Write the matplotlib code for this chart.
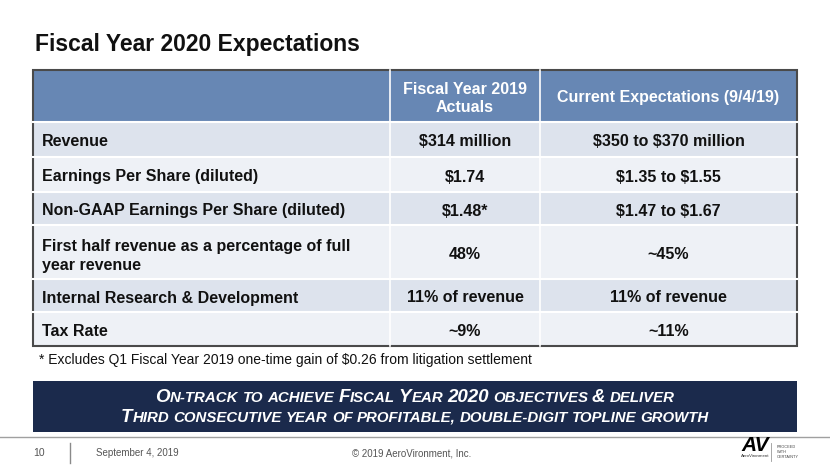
import matplotlib
matplotlib.use("Agg")
import matplotlib.pyplot as plt
from matplotlib import font_manager
from matplotlib.patches import Rectangle

names = {f.name for f in font_manager.fontManager.ttflist}
SANS = ["Liberation Sans", "DejaVu Sans"]
NARROW = ["Liberation Sans Narrow", "Liberation Sans", "DejaVu Sans"] if "Liberation Sans Narrow" in names else SANS
plt.rcParams["font.family"] = SANS
plt.rcParams["text.parse_math"] = False

# table content
title = "Fiscal Year 2020 Expectations"
col_headers = ["", "Fiscal Year 2019\nActuals", "Current Expectations (9/4/19)"]
row_labels = ["Revenue",
              "Earnings Per Share (diluted)",
              "Non-GAAP Earnings Per Share (diluted)",
              "First half revenue as a percentage of full\nyear revenue",
              "Internal Research & Development",
              "Tax Rate"]
fy2019_actuals = ["$314 million", "$1.74", "$1.48*", "48%", "11% of revenue", "~9%"]
fy2020_expect = ["$350 to $370 million", "$1.35 to $1.55", "$1.47 to $1.67", "~45%",
                 "11% of revenue", "~11%"]
footnote = "* Excludes Q1 Fiscal Year 2019 one-time gain of $0.26 from litigation settlement"
banner = ["On-track to achieve Fiscal Year 2020 objectives & deliver",
          "Third consecutive year of profitable, double-digit topline growth"]
footer_page = "10"
footer_date = "September 4, 2019"
footer_copy = "\u00a9 2019 AeroVironment, Inc."

# layout (pixels)
W, H = 830, 467
col_x = [33, 390, 540, 797]
row_y = [70, 122, 157, 192, 225, 279, 312, 346]
HEAD = "#6787b4"
DARK_ROW = "#dde3ed"
LIGHT_ROW = "#eef1f6"
NAVY = "#1b2a4c"
FS = 11.5

fig = plt.figure(figsize=(W / 100, H / 100), dpi=100)
ax = fig.add_axes([0, 0, 1, 1])
ax.set_xlim(0, W)
ax.set_ylim(H, 0)
ax.axis("off")

ax.text(35, 51, title, fontsize=16.5, fontweight="bold", color="#111111", va="baseline")

# header row
ax.add_patch(Rectangle((col_x[0], row_y[0]), col_x[-1] - col_x[0], row_y[1] - row_y[0],
                       facecolor=HEAD, edgecolor="none"))
for j, h in enumerate(col_headers):
    if h:
        ax.text((col_x[j] + col_x[j + 1]) / 2, (row_y[0] + row_y[1]) / 2, h,
                ha="center", va="center_baseline", fontsize=FS, fontweight="bold",
                color="white", linespacing=1.2)

# body rows
for i, lab in enumerate(row_labels):
    y0, y1 = row_y[i + 1], row_y[i + 2]
    ax.add_patch(Rectangle((col_x[0], y0), col_x[-1] - col_x[0], y1 - y0,
                           facecolor=DARK_ROW if i % 2 == 0 else LIGHT_ROW, edgecolor="none"))
    yc = (y0 + y1) / 2 + 1
    ax.text(42, yc, lab, ha="left", va="center_baseline", fontsize=FS, fontweight="bold",
            color="#111111", linespacing=1.3)
    ax.text((col_x[1] + col_x[2]) / 2, yc, fy2019_actuals[i], ha="center",
            va="center_baseline", fontsize=FS, fontweight="bold", color="#111111")
    ax.text((col_x[2] + col_x[3]) / 2, yc, fy2020_expect[i], ha="center",
            va="center_baseline", fontsize=FS, fontweight="bold", color="#111111")

# white grid lines
for y in row_y[1:-1]:
    ax.plot([col_x[0], col_x[-1]], [y, y], color="white", lw=1.5)
for x in col_x[1:-1]:
    ax.plot([x, x], [row_y[0], row_y[-1]], color="white", lw=1.2)
ax.add_patch(Rectangle((col_x[0], row_y[0]), col_x[-1] - col_x[0], row_y[-1] - row_y[0],
                       facecolor="none", edgecolor="#4a4a4a", lw=1.5))

ax.text(39, 360, footnote, fontsize=10, color="#111111", va="center")

# banner
ax.add_patch(Rectangle((33, 381), 764, 51, facecolor=NAVY, edgecolor="none"))
fig.canvas.draw()
rend = fig.canvas.get_renderer()


def measure(s, size):
    t = ax.text(0, 0, s, fontsize=size, fontweight="bold", fontstyle="italic")
    w = t.get_window_extent(rend).width
    t.remove()
    return w


def small_caps(line, ybase, big=13.5, small=10.8):
    runs = []
    for ch in line:
        kind = "sp" if ch == " " else ("big" if (ch.isupper() or ch.isdigit() or ch == "&") else "small")
        if runs and runs[-1][1] == kind:
            runs[-1][0] += ch
        else:
            runs.append([ch, kind])
    space = measure("X X", small) - measure("XX", small)
    widths = []
    for s, kind in runs:
        if kind == "sp":
            widths.append(space * len(s))
        else:
            widths.append(measure(s.upper(), big if kind == "big" else small))
    x = 415 - sum(widths) / 2
    for (s, kind), w in zip(runs, widths):
        if kind != "sp":
            ax.text(x, ybase, s.upper(), fontsize=big if kind == "big" else small,
                    fontweight="bold", fontstyle="italic", color="white",
                    va="baseline", ha="left")
        x += w


small_caps(banner[0], 402)
small_caps(banner[1], 422)

# footer
ax.plot([0, W], [437, 437], color="#a0a0a0", lw=1)
ax.plot([70, 70], [443, 463], color="#8a8a8a", lw=1)
ax.text(33, 453, footer_page, fontsize=7.5, color="#555555", va="center", family=NARROW)
ax.text(96, 453, footer_date, fontsize=7, color="#555555", va="center", family=NARROW)
ax.text(412, 453, footer_copy, fontsize=7, color="#555555", va="center", ha="center", family=NARROW)

# logo
ax.text(755, 451, "AV", fontsize=15, fontweight="bold", fontstyle="italic", color="black",
        ha="center", va="baseline")
ax.text(755, 456, "AeroVironment", fontsize=3.2, color="#333333", ha="center", va="center")
ax.plot([771, 771], [443, 461], color="#999999", lw=0.6)
ax.text(777, 452, "PROCEED\nWITH\nCERTAINTY", fontsize=2.8, color="#444444",
        ha="left", va="center", linespacing=1.2)

fig.savefig("out.png", dpi=100)
